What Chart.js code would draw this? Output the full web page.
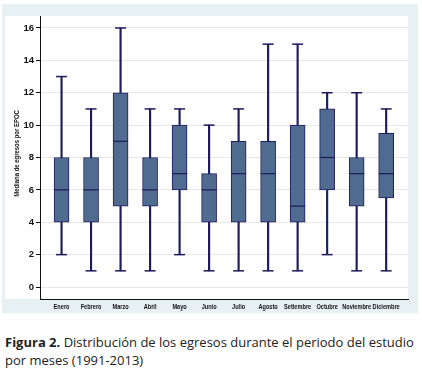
<!DOCTYPE html>
<html><head><meta charset="utf-8">
<script src="https://cdn.jsdelivr.net/npm/chart.js@4.4.1/dist/chart.umd.min.js"></script>
<style>
html,body{margin:0;padding:0;background:#fff;width:422px;height:372px;overflow:hidden}
#panel{position:absolute;left:2px;top:4px;width:416px;height:309px;background:#e7f0f2}
#plotbg{position:absolute;left:5px;top:16px;width:403px;height:283px;background:#fff}
#wrap{position:absolute;left:0;top:0;width:422px;height:316px}
#cap{position:absolute;left:5px;top:333px;font-family:'Open Sans',sans-serif;font-size:13px;line-height:18px;color:#222;white-space:nowrap}
</style></head><body>
<div id="panel"></div><div id="plotbg"></div>
<div id="wrap"><canvas id="c" width="422" height="316"></canvas></div>
<div id="cap"><b>Figura 2.</b> Distribución de los egresos durante el periodo del estudio<br>por meses (1991-2013)</div>
<script>
const months = ['Enero','Febrero','Marzo','Abril','Mayo','Junio','Julio','Agosto','Setiembre','Octubre','Noviembre','Diciembre'];
const minVals = [2,1,1,1,2,1,1,1,1,2,1,1];
const q1Vals  = [4,4,5,5,6,4,4,4,4,6,5,5.5];
const medVals = [6,6,9,6,7,6,7,7,5,8,7,7];
const q3Vals  = [8,8,12,8,10,7,9,9,10,11,8,9.5];
const maxVals = [13,11,16,11,11,10,11,15,15,12,12,11];
const yTicks  = [0,2,4,6,8,10,12,14,16];
const yTitle  = 'Mediana de egresos por EPOC';

const navy = '#1f1b5c';
const boxFill = '#4f6b8f';
const axisFont = "'Liberation Sans',Arial,sans-serif";

// Draws the condensed axis texts (category labels and y title) through the chart's scales
const narrowLabels = {
  id: 'narrowLabels',
  afterDraw(chart) {
    const ctx = chart.ctx, xs = chart.scales.x, area = chart.chartArea;
    ctx.save();
    ctx.fillStyle = '#111';
    ctx.textAlign = 'center';
    ctx.textBaseline = 'top';
    ctx.font = "bold 8px " + axisFont;
    months.forEach((m, i) => {
      ctx.save();
      ctx.translate(xs.getPixelForValue(i), xs.top + 4);
      ctx.scale(0.7, 1);
      ctx.fillText(m, 0, 0);
      ctx.restore();
    });
    ctx.font = "bold 7px " + axisFont;
    ctx.textBaseline = 'middle';
    ctx.save();
    ctx.translate(17, (area.top + area.bottom) / 2 - 4);
    ctx.rotate(-Math.PI / 2);
    ctx.scale(0.85, 1);
    ctx.fillText(yTitle, 0, 0);
    ctx.restore();
    ctx.restore();
  }
};

new Chart(document.getElementById('c'), {
  type: 'bar',
  data: {
    datasets: [
      { type:'bar', data: months.map((m,i)=>({x:i, y:[minVals[i], maxVals[i]]})),
        backgroundColor: navy, barThickness: 1.5, grouped: false, order: 3 },
      { type:'bar', data: months.map((m,i)=>({x:i, y:[q1Vals[i], q3Vals[i]]})),
        backgroundColor: boxFill, borderColor: navy, borderWidth: 1, borderSkipped: false,
        barThickness: 15, grouped: false, order: 2 },
      { type:'scatter', data: months.map((m,i)=>({x:i, y:minVals[i]})).concat(months.map((m,i)=>({x:i, y:maxVals[i]}))),
        pointStyle:'line', pointRadius:5.5, pointHoverRadius:5.5, borderColor: navy, borderWidth:1.5, order: 1 },
      { type:'scatter', data: months.map((m,i)=>({x:i, y:medVals[i]})),
        pointStyle:'line', pointRadius:7.5, pointHoverRadius:7.5, borderColor: navy, borderWidth:1.2, order: 0 }
    ]
  },
  options: {
    responsive: false,
    animation: false,
    layout: { padding: { left: 0, top: 16, right: 14, bottom: 0 } },
    plugins: { legend: { display: false }, tooltip: { enabled: false } },
    scales: {
      x: {
        type: 'linear', min: -0.73, max: 11.74, offset: false,
        afterBuildTicks: s => { s.ticks = months.map((m,i)=>({value:i})); },
        ticks: { display: false },
        grid: { display: false, drawTicks: false },
        border: { display: true, color: '#111', width: 1 },
        afterFit: s => { s.height = 17; }
      },
      y: {
        min: -0.74, max: 16.74,
        afterBuildTicks: s => { s.ticks = yTicks.map(v=>({value:v})); },
        ticks: { padding: 2, color: '#111', font: { family: axisFont, size: 9.5, weight: 'bold' } },
        grid: { color: '#e8e8e8', tickColor: '#111', tickLength: 4, drawTicks: true },
        border: { display: true, color: '#111', width: 1 },
        title: { display: false },
        afterFit: s => { s.width = 40; }
      }
    }
  },
  plugins: [narrowLabels]
});
</script>
</body></html>
